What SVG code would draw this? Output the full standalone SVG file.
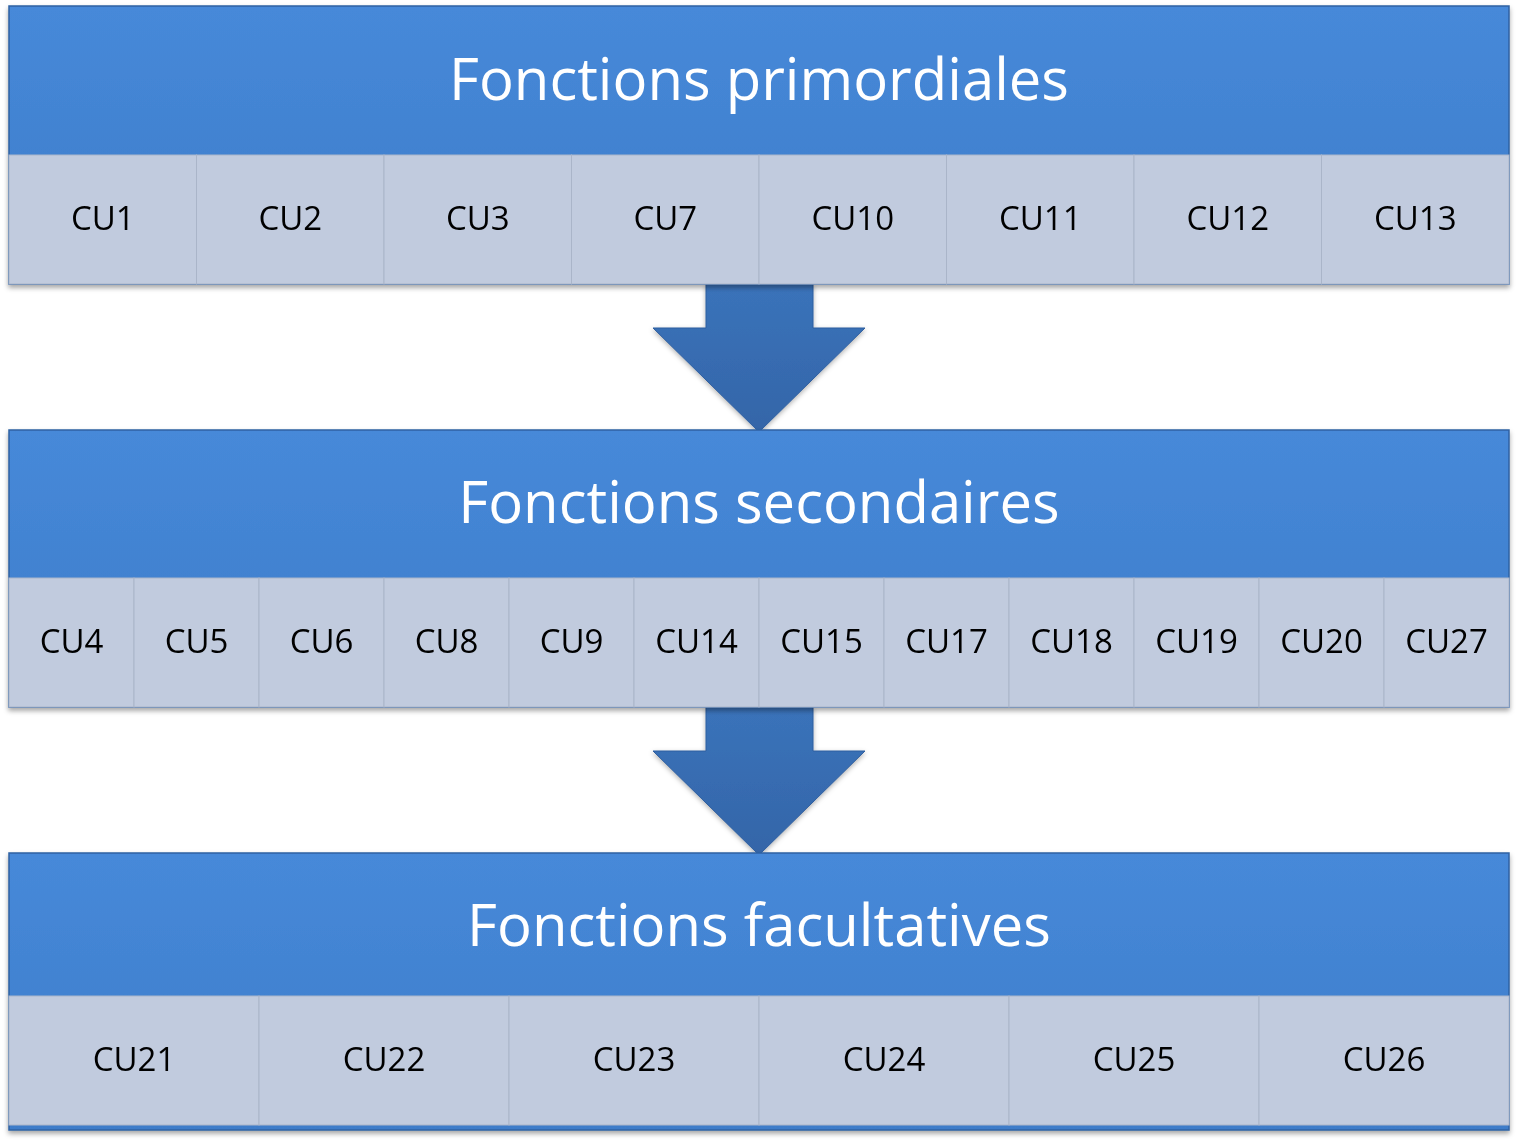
<svg xmlns="http://www.w3.org/2000/svg" width="1518" height="1143" viewBox="0 0 1518 1143">
<defs>
<linearGradient id="hg" x1="0" y1="0" x2="0" y2="1">
<stop offset="0" stop-color="#4689d9"/>
<stop offset="1" stop-color="#3e7cc9"/>
</linearGradient>
<linearGradient id="ag" x1="0" y1="0" x2="0" y2="1">
<stop offset="0" stop-color="#3a73ba"/>
<stop offset="1" stop-color="#3465a8"/>
</linearGradient>
<filter id="sh" x="-5%" y="-10%" width="110%" height="125%">
<feDropShadow dx="0" dy="3" stdDeviation="2.5" flood-color="#000" flood-opacity="0.35"/>
</filter>
<filter id="ash" x="-20%" y="-20%" width="140%" height="140%">
<feDropShadow dx="0" dy="2" stdDeviation="2.5" flood-color="#000" flood-opacity="0.3"/>
</filter>
</defs>
<style>
.hdr{fill:url(#hg);stroke:#2f62a3;stroke-width:1.5}
.cell{fill:#c1cbde;stroke:#aab5c9;stroke-width:1}
.ht{font-family:"Open Sans","Liberation Sans",sans-serif;font-size:58px;fill:#ffffff;text-anchor:middle}
.ct{font-family:"Open Sans","Liberation Sans",sans-serif;font-size:33px;fill:#000000;text-anchor:middle}
.arrow{fill:url(#ag);stroke:#2f5f9f;stroke-width:1}
</style>

<g id="connectors">
<path class="arrow" filter="url(#ash)" d="M706,284 L813,284 L813,328 L865,328 L759,432 L653,328 L706,328 Z"/>
<path class="arrow" filter="url(#ash)" d="M706,707 L813,707 L813,751 L865,751 L759,855 L653,751 L706,751 Z"/>
</g>

<g id="panel-primordiales" filter="url(#sh)">
<rect class="hdr" x="9" y="6" width="1500" height="278"/>
<text class="ht" x="759" y="100">Fonctions primordiales</text>
<g id="cells-1">
<rect class="cell" x="9" y="155" width="187.5" height="129"/>
<rect class="cell" x="196.5" y="155" width="187.5" height="129"/>
<rect class="cell" x="384" y="155" width="187.5" height="129"/>
<rect class="cell" x="571.5" y="155" width="187.5" height="129"/>
<rect class="cell" x="759" y="155" width="187.5" height="129"/>
<rect class="cell" x="946.5" y="155" width="187.5" height="129"/>
<rect class="cell" x="1134" y="155" width="187.5" height="129"/>
<rect class="cell" x="1321.5" y="155" width="187.5" height="129"/>
</g>
<text class="ct" x="102.75" y="230">CU1</text>
<text class="ct" x="290.25" y="230">CU2</text>
<text class="ct" x="477.75" y="230">CU3</text>
<text class="ct" x="665.25" y="230">CU7</text>
<text class="ct" x="852.75" y="230">CU10</text>
<text class="ct" x="1040.25" y="230">CU11</text>
<text class="ct" x="1227.75" y="230">CU12</text>
<text class="ct" x="1415.25" y="230">CU13</text>
</g>

<g id="panel-secondaires" filter="url(#sh)">
<rect class="hdr" x="9" y="430" width="1500" height="277"/>
<text class="ht" x="759" y="523">Fonctions secondaires</text>
<g id="cells-2">
<rect class="cell" x="9" y="578" width="125" height="129"/>
<rect class="cell" x="134" y="578" width="125" height="129"/>
<rect class="cell" x="259" y="578" width="125" height="129"/>
<rect class="cell" x="384" y="578" width="125" height="129"/>
<rect class="cell" x="509" y="578" width="125" height="129"/>
<rect class="cell" x="634" y="578" width="125" height="129"/>
<rect class="cell" x="759" y="578" width="125" height="129"/>
<rect class="cell" x="884" y="578" width="125" height="129"/>
<rect class="cell" x="1009" y="578" width="125" height="129"/>
<rect class="cell" x="1134" y="578" width="125" height="129"/>
<rect class="cell" x="1259" y="578" width="125" height="129"/>
<rect class="cell" x="1384" y="578" width="125" height="129"/>
</g>
<text class="ct" x="71.5" y="653">CU4</text>
<text class="ct" x="196.5" y="653">CU5</text>
<text class="ct" x="321.5" y="653">CU6</text>
<text class="ct" x="446.5" y="653">CU8</text>
<text class="ct" x="571.5" y="653">CU9</text>
<text class="ct" x="696.5" y="653">CU14</text>
<text class="ct" x="821.5" y="653">CU15</text>
<text class="ct" x="946.5" y="653">CU17</text>
<text class="ct" x="1071.5" y="653">CU18</text>
<text class="ct" x="1196.5" y="653">CU19</text>
<text class="ct" x="1321.5" y="653">CU20</text>
<text class="ct" x="1446.5" y="653">CU27</text>
</g>

<g id="panel-facultatives" filter="url(#sh)">
<rect class="hdr" x="9" y="853" width="1500" height="277"/>
<text class="ht" x="759" y="946">Fonctions facultatives</text>
<g id="cells-3">
<rect class="cell" x="9" y="996" width="250" height="129"/>
<rect class="cell" x="259" y="996" width="250" height="129"/>
<rect class="cell" x="509" y="996" width="250" height="129"/>
<rect class="cell" x="759" y="996" width="250" height="129"/>
<rect class="cell" x="1009" y="996" width="250" height="129"/>
<rect class="cell" x="1259" y="996" width="250" height="129"/>
</g>
<text class="ct" x="134" y="1071">CU21</text>
<text class="ct" x="384" y="1071">CU22</text>
<text class="ct" x="634" y="1071">CU23</text>
<text class="ct" x="884" y="1071">CU24</text>
<text class="ct" x="1134" y="1071">CU25</text>
<text class="ct" x="1384" y="1071">CU26</text>
</g>
</svg>
